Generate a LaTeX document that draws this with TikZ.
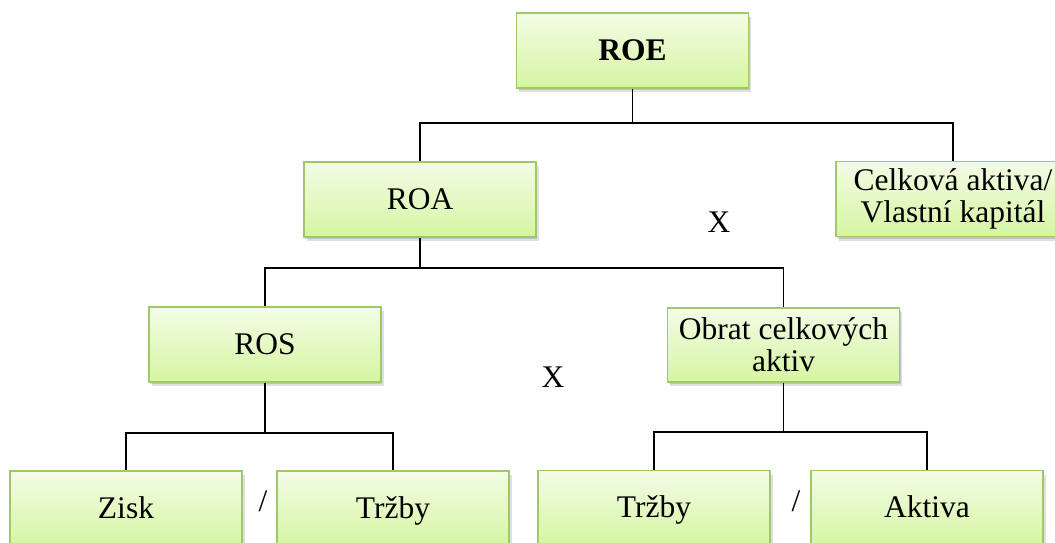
\documentclass[tikz,border=0pt]{standalone}
\usepackage{fontspec}
\setmainfont{Liberation Serif}
\usetikzlibrary{shadows}
\definecolor{boxtop}{RGB}{243,252,230}
\definecolor{boxbot}{RGB}{214,245,162}
\definecolor{boxedge}{RGB}{160,200,104}
\tikzset{
  fbox/.style={
    draw=boxedge, line width=1.5pt,
    top color=boxtop, bottom color=boxbot,
    minimum width=232pt, minimum height=75pt, inner sep=0pt,
    align=center, font=\fontsize{31.5}{32}\selectfont,
    general shadow={shadow xshift=1pt, shadow yshift=-2pt, fill=black, opacity=.12},
    general shadow={shadow xshift=2.5pt, shadow yshift=-4pt, fill=black, opacity=.12}
  },
  oneline/.style={text height=22pt, text depth=3pt},
  link/.style={draw=black, line width=1.5pt},
  sign/.style={font=\fontsize{31.5}{32}\selectfont, inner sep=0pt, text height=22pt, text depth=3pt}
}
\begin{document}
\begin{tikzpicture}[x=1pt, y=-1pt]
  \useasboundingbox (0,0) rectangle (1055,543);
  \clip (0,0) rectangle (1055,543);

  % top level
  \node[fbox, oneline] (roe) at (632.5,50.5) {\bfseries ROE};
  % second level
  \node[fbox, oneline] (roa) at (420,199.5) {ROA};
  \node[fbox, minimum width=234pt] (celk) at (953,199) {Celková aktiva/\\Vlastní kapitál};
  % third level
  \node[fbox, oneline] (ros) at (265,344.5) {ROS};
  \node[fbox, minimum height=74pt] (obrat) at (783.5,345) {Obrat celkových\\aktiv};
  % bottom level
  \node[fbox, oneline] (zisk) at (126,508.5) {Zisk};
  \node[fbox, oneline] (trz1) at (393,508.5) {Tržby};
  \node[fbox, oneline] (trz2) at (654,508) {Tržby};
  \node[fbox, oneline] (akt) at (927,508) {Aktiva};

  % operators
  \node[sign] (x1) at (719,223) {X};
  \node[sign] (x2) at (553,378) {X};
  \node[sign] (s1) at (263,502) {/};
  \node[sign] (s2) at (796,502) {/};

  % connectors
  \coordinate (j1) at (632.5,123);
  \coordinate (j2) at (420,268);
  \coordinate (j3) at (265,433);
  \coordinate (j4) at (783.5,432);
  \draw[link] (roe.south) -- (j1);
  \draw[link] (j1) -| (roa.north);
  \draw[link] (j1) -| (celk.north);
  \draw[link] (roa.south) -- (j2);
  \draw[link] (j2) -| (ros.north);
  \draw[link] (j2) -| (obrat.north);
  \draw[link] (ros.south) -- (j3);
  \draw[link] (j3) -| (zisk.north);
  \draw[link] (j3) -| (trz1.north);
  \draw[link] (obrat.south) -- (j4);
  \draw[link] (j4) -| (trz2.north);
  \draw[link] (j4) -| (akt.north);
\end{tikzpicture}
\end{document}
